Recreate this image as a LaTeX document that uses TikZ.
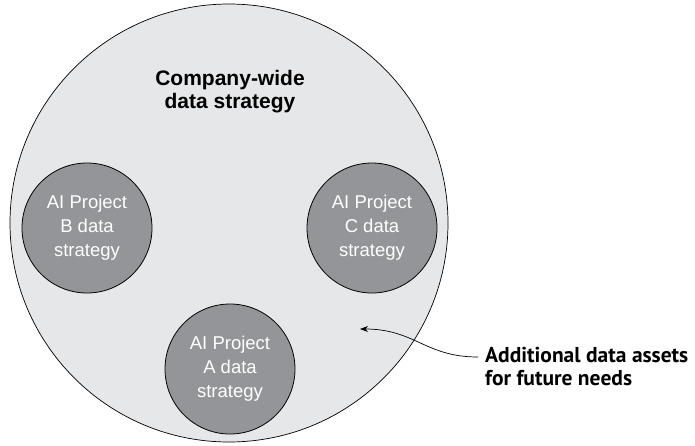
\documentclass[tikz,border=0pt]{standalone}
\usepackage{fontspec}
\setmainfont{Liberation Sans}
\newfontfamily\notefont{PT Sans}
\usepackage{tikz}
\usetikzlibrary{arrows.meta}
\usepackage{xcolor}
\definecolor{paleGray}{HTML}{E6E7E8}
\definecolor{projGray}{HTML}{939598}

\begin{document}
\begin{tikzpicture}[x=1pt, y=-1pt, every node/.style={inner sep=0pt, align=center}, >={Stealth[length=8pt, width=6pt]},
  wholeCircle/.style={circle, draw, line width=0.7pt, fill=paleGray, minimum size=438pt},
  projCircle/.style={circle, draw, line width=0.8pt, fill=projGray, minimum size=130pt, text=white, font=\fontsize{18.5}{24}\selectfont},
  titleText/.style={font=\fontsize{21}{23}\selectfont\bfseries},
  noteText/.style={align=left, font=\notefont\fontsize{21.5}{23}\selectfont\bfseries}]
\useasboundingbox (0,0) rectangle (695,445);
\node[wholeCircle] (CW) at (229,223) {};
\node[titleText] (T) at (230,92) {Company-wide\\data strategy};
\node[projCircle] (PB) at (87,228) {AI Project\\B data\\strategy};
\node[projCircle] (PC) at (372,228) {AI Project\\C data\\strategy};
\node[projCircle] (PA) at (230,369) {AI Project\\A data\\strategy};
\node[noteText, anchor=north west] (N) at (485,347) {Additional data assets\\for future needs};
\coordinate (spare) at (360,329);
\draw[->, line width=0.7pt] ([xshift=-7pt, yshift=-10pt]N.north west) .. controls (425,357) and (415,329) .. (spare);
\end{tikzpicture}
\end{document}
